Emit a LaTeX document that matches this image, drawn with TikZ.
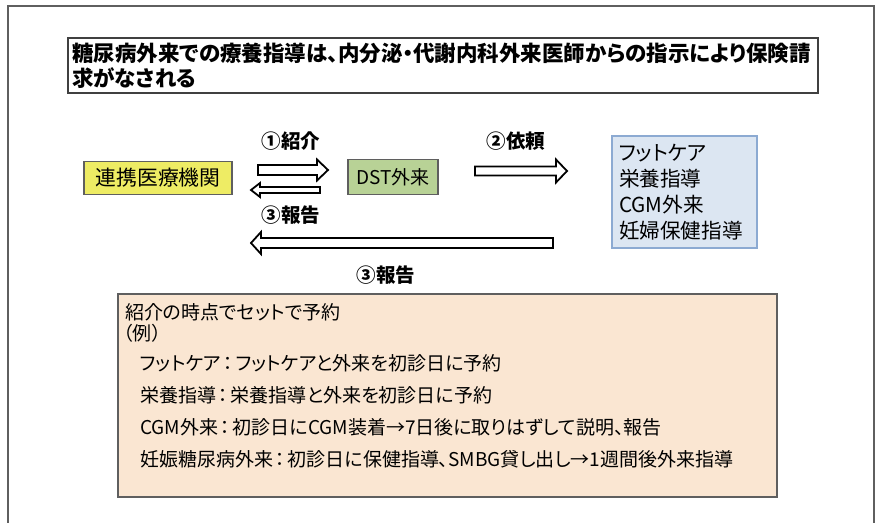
\documentclass[tikz,border=0pt]{standalone}
\usepackage{fontspec}
\setmainfont{Noto Sans CJK JP}
\newfontfamily\propjp[RawFeature=+palt]{Noto Sans CJK JP}
\usetikzlibrary{calc}
\definecolor{yel}{RGB}{238,236,100}
\definecolor{grn}{RGB}{184,210,150}
\definecolor{blu}{RGB}{220,230,242}
\definecolor{bluline}{RGB}{140,170,210}
\definecolor{peach}{RGB}{250,230,210}
\definecolor{frame}{RGB}{95,95,95}
\newcommand\jcolon{\kern2.5pt：\kern2.5pt}
\tikzset{
  hollowarrow/.style={draw=black, fill=white, line width=1.8, line join=miter},
  box/.style={draw=frame, line width=1.2, inner sep=0, outer sep=0},
  lbl/.style={font=\fontsize{19.5}{22}\selectfont\bfseries, inner sep=0},
  bodytxt/.style={font=\propjp\fontsize{19}{21}\selectfont, inner sep=0, anchor=west},
}
\newcommand\harrow[5]{\draw[hollowarrow] ($(#1)+(0,#3)$) -- ($(#2)+({-(#5)},#3)$) -- ($(#2)+({-(#5)},#4)$) -- (#2) -- ($(#2)+({-(#5)},{-(#4)})$) -- ($(#2)+({-(#5)},{-(#3)})$) -- ($(#1)+(0,{-(#3)})$) -- cycle;}
\begin{document}
\begin{tikzpicture}[x=1pt,y=-1pt]
\useasboundingbox (0,0) rectangle (877,522);
\fill[white] (0,0) rectangle (877,522);
% outer frame (open at bottom)
\draw[frame, line width=1.5] (8,530) -- (8,6) -- (874,6) -- (874,530);
% title
\node[box, draw=black!75, anchor=north west, minimum width=750, minimum height=55,
      text width=742, align=left, inner xsep=4,
      font=\propjp\fontsize{21.5}{25}\selectfont\bfseries] (title) at (68,38)
  {糖尿病外来での療養指導は、内分泌・代謝内科外来医師からの指示により保険請\\求がなされる};
% main nodes
\node[box, fill=yel, minimum width=148, minimum height=33, font=\fontsize{20.8}{24}\selectfont] (inst) at (158,178) {連携医療機関};
\node[box, fill=grn, minimum width=90, minimum height=35, font=\fontsize{19}{24}\selectfont] (dst) at (393,177) {DST外来};
\node[box, draw=bluline, fill=blu, minimum width=145, minimum height=112,
      text width=131, align=left, inner xsep=7, font=\propjp\fontsize{20.6}{26}\selectfont] (svc) at (684.5,192)
  {フットケア\\栄養指導\\CGM外来\\妊婦保健指導};
% arrows
\coordinate (a1t) at (258,170); \coordinate (a1h) at (328,170);
\coordinate (a3t) at (320,190); \coordinate (a3h) at (251,190);
\coordinate (a2t) at (475,171); \coordinate (a2h) at (567,171);
\coordinate (a4t) at (553,243); \coordinate (a4h) at (251,243);
\harrow{a1t}{a1h}{5}{10.5}{11}
\harrow{a3t}{a3h}{3}{7}{-9}
\harrow{a2t}{a2h}{4.5}{11.5}{11}
\harrow{a4t}{a4h}{5}{11}{-10}
% labels
\node[lbl] (l1) at (291,141) {①紹介};
\node[lbl] (l3a) at (291,215) {③報告};
\node[lbl] (l2) at (516,141) {②依頼};
\node[lbl] (l3b) at (386,275) {③報告};
% bottom box
\node[box, fill=peach, anchor=north west, minimum width=659, minimum height=203] (note) at (118,294) {};
\node[bodytxt] (n1) at (125,312) {紹介の時点でセットで予約};
\node[bodytxt] (n2) at (123,333) {（例）};
\node[bodytxt] (n3) at (140,363) {フットケア\jcolon フットケアと外来を初診日に予約};
\node[bodytxt] (n4) at (140,395) {栄養指導\jcolon 栄養指導と外来を初診日に予約};
\node[bodytxt] (n5) at (140,427) {CGM外来\jcolon 初診日にCGM装着→7日後に取りはずして説明、報告};
\node[bodytxt] (n6) at (140,459) {妊娠糖尿病外来\jcolon 初診日に保健指導、SMBG貸し出し→1週間後外来指導};
\end{tikzpicture}
\end{document}
